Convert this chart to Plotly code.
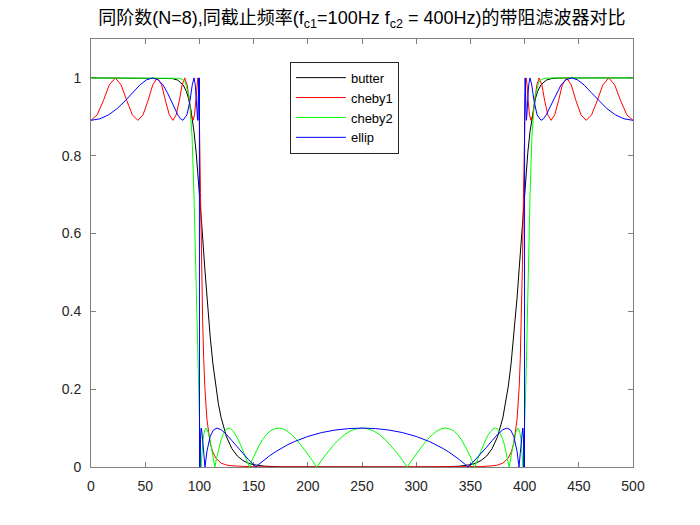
import plotly.graph_objects as go

# ---------------- data (frequency in Hz, magnitude) ----------------
butter_f = [0, 40, 60, 70, 75, 80, 85, 88, 90, 92, 95, 97, 100, 102, 105, 107, 110, 112.5, 115, 117.5,
            120, 125, 130, 135, 140, 145, 150, 160, 175, 200, 250,
            300, 325, 340, 350, 355, 360, 365, 370, 375, 380, 382.5, 385, 387.5, 390, 393, 395, 398,
            400, 403, 405, 408, 410, 412, 415, 420, 425, 430, 440, 460, 500]
butter_y = [1, 1, 1, 0.9995, 0.9983, 0.9943, 0.9819, 0.9653, 0.947, 0.9206, 0.8627, 0.8092, 0.7071, 0.6294,
            0.5095, 0.4332, 0.3335, 0.2647, 0.2081, 0.1627, 0.1272, 0.0775, 0.047, 0.0283, 0.017, 0.0101,
            0.006, 0.0021, 0.0004, 0, 0,
            0, 0.0004, 0.0021, 0.006, 0.0101, 0.017, 0.0283, 0.047, 0.0775, 0.1272, 0.1627, 0.2081, 0.2647,
            0.3335, 0.4332, 0.5095, 0.6294, 0.7071, 0.8092, 0.8627, 0.9206, 0.947, 0.9653, 0.9819, 0.9943,
            0.9983, 0.9995, 1, 1, 1]

cheby1_f = [0, 5.67, 11.32, 16.90, 22.41, 27.81, 33.08, 38.21, 43.16, 47.95, 52.55, 56.97, 61.19, 65.20,
            68.74, 72.25, 75.53, 78.60, 81.44, 84.08, 86.49, 88.68, 90.70, 92.50, 94.08, 95.49, 96.70,
            97.72, 98.54, 99.18, 99.64, 99.91, 100, 101, 102, 103, 104, 105, 107, 110, 112, 115, 120,
            125, 130, 140, 150, 250,
            350, 360, 370, 375, 380, 385, 388, 390, 393, 395, 396, 397, 398, 399, 400, 400.09, 400.36,
            400.82, 401.46, 402.28, 403.30, 404.51, 405.92, 407.50, 409.30, 411.32, 413.51, 415.92,
            418.56, 421.40, 424.47, 427.75, 431.26, 434.80, 438.81, 443.03, 447.45, 452.05, 456.84,
            461.79, 466.92, 472.19, 477.59, 483.10, 488.68, 494.33, 500]
cheby1_y = [0.891, 0.905, 0.941, 0.982, 1, 0.982, 0.941, 0.905, 0.891, 0.905, 0.941, 0.982, 1, 0.982,
            0.941, 0.905, 0.891, 0.905, 0.941, 0.982, 1, 0.982, 0.941, 0.905, 0.891, 0.905, 0.941,
            0.982, 1, 0.982, 0.941, 0.905, 0.891, 0.705, 0.518, 0.376, 0.276, 0.205, 0.121, 0.061,
            0.041, 0.023, 0.010, 0.005, 0.003, 0.001, 0.0005, 0,
            0.0005, 0.001, 0.003, 0.005, 0.010, 0.023, 0.041, 0.061, 0.121, 0.205, 0.276, 0.376, 0.518,
            0.705, 0.891, 0.905, 0.941, 0.982, 1, 0.982, 0.941, 0.905, 0.891, 0.905, 0.941, 0.982, 1,
            0.982, 0.941, 0.905, 0.891, 0.905, 0.941, 0.982, 1, 0.982, 0.941, 0.905, 0.891, 0.905,
            0.941, 0.982, 1, 0.982, 0.941, 0.905, 0.891]

cheby2_f = [0, 60, 75, 80.84, 84, 86.84, 90.65, 92.27, 93.23, 94.97, 96.58, 98.09, 98.96, 100,
            100.10, 100.37, 100.83, 101.48, 102.33, 103.37, 104.61, 106.05, 107.73, 109.65, 111.82,
            114.27, 115.62, 117.02, 118.51, 120.07, 121.71, 123.44, 125.25, 127.16, 129.16, 131.27,
            133.45, 135.76, 138.17, 140.77, 143.34, 146.10, 148.98, 152.01, 155.13, 158.40, 161.80,
            165.34, 169.03, 172.84, 176.80, 180.89, 185.13, 189.50, 194.02, 198.61, 203.38, 208.24,
            213.22, 218.28, 223.43, 228.66, 233.94, 239.27, 244.63, 250,
            255.37, 260.73, 266.06, 271.34, 276.57, 281.72, 286.78, 291.76, 296.62, 301.39, 305.98,
            310.50, 314.87, 319.11, 323.20, 327.16, 330.97, 334.66, 338.20, 341.60, 344.87, 347.99,
            351.02, 353.90, 356.66, 359.23, 361.83, 364.24, 366.55, 368.73, 370.84, 372.84, 374.75,
            376.56, 378.29, 379.93, 381.49, 382.98, 384.38, 385.73, 388.18, 390.35, 392.27, 393.95,
            395.39, 396.63, 397.67, 398.52, 399.17, 399.63, 399.90, 400, 401.04, 401.91, 403.42,
            405.03, 406.77, 407.73, 409.35, 413.16, 416, 419.16, 425, 440, 500]
cheby2_y = [1, 1, 1, 0.999, 0.9966, 0.99, 0.95, 0.9, 0.85, 0.7, 0.5, 0.3, 0.2, 0.1,
            0.0925, 0.0709, 0.0384, 0, 0.0384, 0.0709, 0.0925, 0.1, 0.0925, 0.0709, 0.0384,
            0, 0.0196, 0.0384, 0.0558, 0.0709, 0.0833, 0.0925, 0.0981, 0.1, 0.0981, 0.0925,
            0.0833, 0.0709, 0.0558, 0.0384, 0.0196, 0, 0.0196, 0.0384, 0.0558, 0.0709, 0.0833,
            0.0925, 0.0981, 0.1, 0.0981, 0.0925, 0.0833, 0.0709, 0.0558, 0.0384, 0.0196, 0,
            0.0196, 0.0384, 0.0558, 0.0709, 0.0833, 0.0925, 0.0981, 0.1,
            0.0981, 0.0925, 0.0833, 0.0709, 0.0558, 0.0384, 0.0196, 0, 0.0196, 0.0384, 0.0558,
            0.0709, 0.0833, 0.0925, 0.0981, 0.1, 0.0981, 0.0925, 0.0833, 0.0709, 0.0558, 0.0384,
            0.0196, 0, 0.0196, 0.0384, 0.0558, 0.0709, 0.0833, 0.0925, 0.0981, 0.1, 0.0981,
            0.0925, 0.0833, 0.0709, 0.0558, 0.0384, 0.0196, 0, 0.0384, 0.0709, 0.0925, 0.1,
            0.0925, 0.0709, 0.0384, 0, 0.0384, 0.0709, 0.0925, 0.1, 0.2, 0.3, 0.5,
            0.7, 0.85, 0.9, 0.95, 0.99, 0.9966, 0.999, 1, 1, 1]

ellip_f = [0, 8.17, 16.22, 24.02, 31.49, 38.56, 45.14, 51.22, 56.76, 61.85, 66.42, 70.43, 74.08, 77.28,
           80.06, 82.61, 84.84, 88.50, 91.29, 93.41, 95.03,
           96.24, 97.16, 97.86, 98.38, 99.0, 99.52, 99.87, 99.99, 100, 100.09, 100.21, 100.57, 101,
           101.72, 102, 103, 104, 105.15, 107, 110, 113, 116.23, 120, 125, 130, 135, 140, 145, 148,
           152.24, 155, 160, 165, 170, 175, 181, 187.5, 200, 212.5, 225, 237.5, 250,
           262.5, 275, 287.5, 300, 312.5, 319, 325, 330, 335, 340, 345, 347.76, 352, 355, 360, 365,
           370, 375, 380, 383.77, 387, 390, 393, 394.85, 396, 397, 398, 398.28, 399, 399.43, 399.79,
           399.91, 400, 400.01, 400.13, 400.48, 401, 401.62, 402.14, 402.84, 403.76, 404.97, 406.59,
           408.71, 411.50, 415.16, 417.39, 419.94, 422.72, 425.92, 429.57, 433.58, 438.15, 443.24,
           448.78, 454.86, 461.44, 468.51, 475.98, 483.78, 491.83, 500]
ellip_y = [0.891, 0.8948, 0.905, 0.921, 0.941, 0.9623, 0.982, 0.9951, 1, 0.9951, 0.982, 0.9623, 0.941, 0.921,
           0.905, 0.8948, 0.891, 0.905, 0.941, 0.982, 1,
           0.982, 0.941, 0.905, 0.891, 0.95, 1, 0.891, 1, 0.891, 0, 0.1, 0, 0.0715,
           0.1, 0.0973, 0.069, 0.035, 0, 0.0411, 0.079, 0.0955, 0.1, 0.096, 0.0835, 0.0676, 0.0511,
           0.035, 0.0198, 0.0112, 0, 0.0072, 0.0186, 0.0293, 0.0387, 0.0472, 0.0566, 0.0651, 0.0785,
           0.0883, 0.0949, 0.0987, 0.1,
           0.0987, 0.0949, 0.0883, 0.0785, 0.0651, 0.0566, 0.0472, 0.0387, 0.0293, 0.0186, 0.0072, 0,
           0.0112, 0.0198, 0.035, 0.0511, 0.0676, 0.0835, 0.096, 0.1, 0.0955, 0.079, 0.0411, 0,
           0.035, 0.069, 0.0973, 0.1, 0.0715, 0, 0.1, 0, 0.891, 1, 0.891, 1, 0.95, 0.891, 0.905,
           0.941, 0.982, 1, 0.982, 0.941, 0.905, 0.891, 0.8948, 0.905, 0.921, 0.941, 0.9623, 0.982,
           0.9951, 1, 0.9951, 0.982, 0.9623, 0.941, 0.921, 0.905, 0.8948, 0.891]

series_names = ["butter", "cheby1", "cheby2", "ellip"]
series_colors = ["#000000", "#ff0000", "#00ff00", "#0000ff"]
x_ticks = [0, 50, 100, 150, 200, 250, 300, 350, 400, 450, 500]
y_ticks = [0, 0.2, 0.4, 0.6, 0.8, 1]
y_tick_text = ["0", "0.2", "0.4", "0.6", "0.8", "1"]
title_text = "同阶数(N=8),同截止频率(f<sub>c1</sub>=100Hz f<sub>c2</sub> = 400Hz)的带阻滤波器对比"

# ---------------- figure ----------------
fig = go.Figure()
all_f = [butter_f, cheby1_f, cheby2_f, ellip_f]
all_y = [butter_y, cheby1_y, cheby2_y, ellip_y]
for name, col, fx, fy in zip(series_names, series_colors, all_f, all_y):
    fig.add_trace(go.Scatter(x=fx, y=fy, mode="lines", name=name, legendgroup=name,
                             line=dict(color=col, width=1)))

font_main = "Liberation Sans, Arial, Helvetica, Noto Sans CJK SC, sans-serif"
axis_common = dict(showline=True, linecolor="#808080", linewidth=1, mirror="ticks",
                   ticks="inside", ticklen=5, tickcolor="#808080", tickwidth=1,
                   showgrid=False, zeroline=False, layer="below traces",
                   tickfont=dict(family=font_main, size=14, color="#262626"))

fig.update_layout(
    width=700, height=525,
    margin=dict(l=91, r=66.5, t=39.4, b=57.75, pad=0),
    paper_bgcolor="white", plot_bgcolor="white",
    title=dict(text=title_text, x=0.517, xanchor="center", y=0.966, yanchor="middle",
               xref="container", yref="container",
               font=dict(family=font_main, size=18, color="#000000")),
    xaxis=dict(range=[0, 500], tickvals=x_ticks, ticklabelstandoff=6, **axis_common),
    yaxis=dict(range=[0, 1.1], tickvals=y_ticks, ticktext=y_tick_text, ticklabelstandoff=6,
               **axis_common),
    legend=dict(x=0.367, y=0.947, xanchor="left", yanchor="top",
                bordercolor="#262626", borderwidth=1, bgcolor="white",
                font=dict(family=font_main, size=13, color="#000000"),
                tracegroupgap=0, itemwidth=50),
    showlegend=True,
)

fig.write_html("out.html")
